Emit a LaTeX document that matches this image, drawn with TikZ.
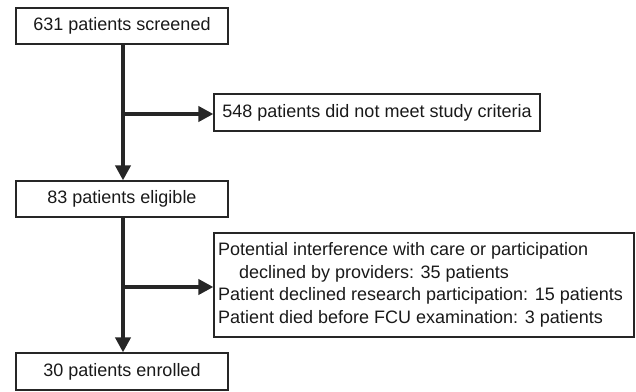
\documentclass[tikz,border=0pt]{standalone}
\usepackage{fontspec}
\setmainfont{Liberation Sans}
\usetikzlibrary{arrows.meta}
\begin{document}
\begin{tikzpicture}[x=1pt,y=-1pt,
  box/.style={draw=black!85, line width=1.2pt, inner sep=0pt, font=\fontsize{18}{22.5}\selectfont, text=black!90},
  flow/.style={line width=4pt, draw=black!85, -{Triangle[length=15pt,width=15pt]}}]
\useasboundingbox (0,0) rectangle (636,391);
\node[box, minimum width=212pt, minimum height=36pt] (s) at (122,26) {631 patients screened};
\node[box, minimum width=326pt, minimum height=37pt] (x1) at (377,112.5) {548 patients did not meet study criteria};
\node[box, minimum width=212pt, minimum height=36pt] (e) at (122,199) {83 patients eligible};
\node[box, text width=412pt, inner xsep=4pt, minimum height=104pt, align=flush left] (x2) at (424,285) {\mbox{Potential interference with care or participation}\\
\mbox{\hspace{21pt}declined by providers: 35 patients}\\
\mbox{Patient declined research participation: 15 patients}\\
\mbox{Patient died before FCU examination: 3 patients}};
\node[box, minimum width=212pt, minimum height=37pt] (en) at (122,371.5) {30 patients enrolled};
\coordinate (b1) at (123,114);
\coordinate (b2) at (123,287);
\draw[flow] (s.south -| b1) -- (e.north -| b1);
\draw[flow] (b1) -- (b1 -| x1.west);
\draw[flow] (e.south -| b2) -- (en.north -| b2);
\draw[flow] (b2) -- (b2 -| x2.west);
\end{tikzpicture}
\end{document}
